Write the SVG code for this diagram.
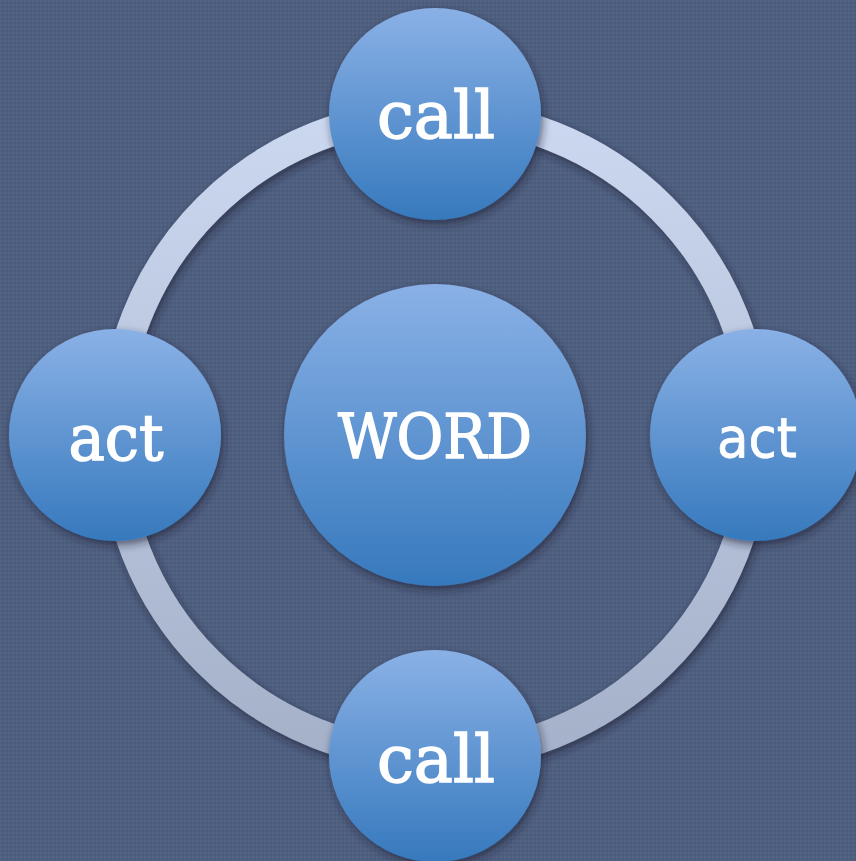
<svg xmlns="http://www.w3.org/2000/svg" width="856" height="861" viewBox="0 0 856 861">
<style>
.node{fill:url(#nodeGrad);filter:url(#shadow)}
.lbl{fill:#ffffff;stroke:#ffffff;stroke-width:1.5;font-family:"DejaVu Serif","Liberation Serif",serif;font-weight:normal;text-anchor:middle}
.lbl2{fill:#ffffff;stroke:#ffffff;stroke-width:0.8;font-family:"DejaVu Sans","Liberation Sans",sans-serif;text-anchor:middle}
</style>
<defs>
<linearGradient id="nodeGrad" x1="0" y1="0" x2="0" y2="1">
<stop offset="0" stop-color="#8ab1e6"/>
<stop offset="1" stop-color="#3679bd"/>
</linearGradient>
<linearGradient id="ringGrad" gradientUnits="userSpaceOnUse" x1="0" y1="114" x2="0" y2="756">
<stop offset="0" stop-color="#cbd8ef"/>
<stop offset="1" stop-color="#a4b1c9"/>
</linearGradient>
<filter id="shadow" x="-20%" y="-20%" width="150%" height="150%">
<feDropShadow dx="2" dy="4" stdDeviation="4" flood-color="#1c2436" flood-opacity="0.6"/>
</filter>
<pattern id="tex" width="4" height="4" patternUnits="userSpaceOnUse">
<rect width="4" height="4" fill="#4f5f7f"/>
<rect width="2" height="2" fill="#536383"/>
<rect x="2" y="2" width="2" height="2" fill="#4b5b7b"/>
</pattern>
</defs>
<rect width="856" height="861" fill="url(#tex)"/>
<g id="connectors">
<circle cx="435" cy="435" r="321" fill="none" stroke="url(#ringGrad)" stroke-width="30" filter="url(#shadow)"/>
</g>
<g id="node-word">
<circle class="node" cx="435" cy="435" r="151"/>
<text class="lbl" x="435" y="458" font-size="62" textLength="194" lengthAdjust="spacingAndGlyphs">WORD</text>
</g>
<g id="node-call-top">
<circle class="node" cx="435" cy="114" r="106"/>
<text class="lbl" x="436" y="138" font-size="66" textLength="118" lengthAdjust="spacingAndGlyphs">call</text>
</g>
<g id="node-act-left">
<circle class="node" cx="115" cy="435" r="106"/>
<text class="lbl" x="116" y="460" font-size="64" textLength="95" lengthAdjust="spacingAndGlyphs">act</text>
</g>
<g id="node-act-right">
<circle class="node" cx="756" cy="435" r="106"/>
<text class="lbl2" x="757" y="457" font-size="56" textLength="80" lengthAdjust="spacingAndGlyphs">act</text>
</g>
<g id="node-call-bottom">
<circle class="node" cx="435" cy="756" r="106"/>
<text class="lbl" x="436" y="782" font-size="66" textLength="118" lengthAdjust="spacingAndGlyphs">call</text>
</g>
</svg>
